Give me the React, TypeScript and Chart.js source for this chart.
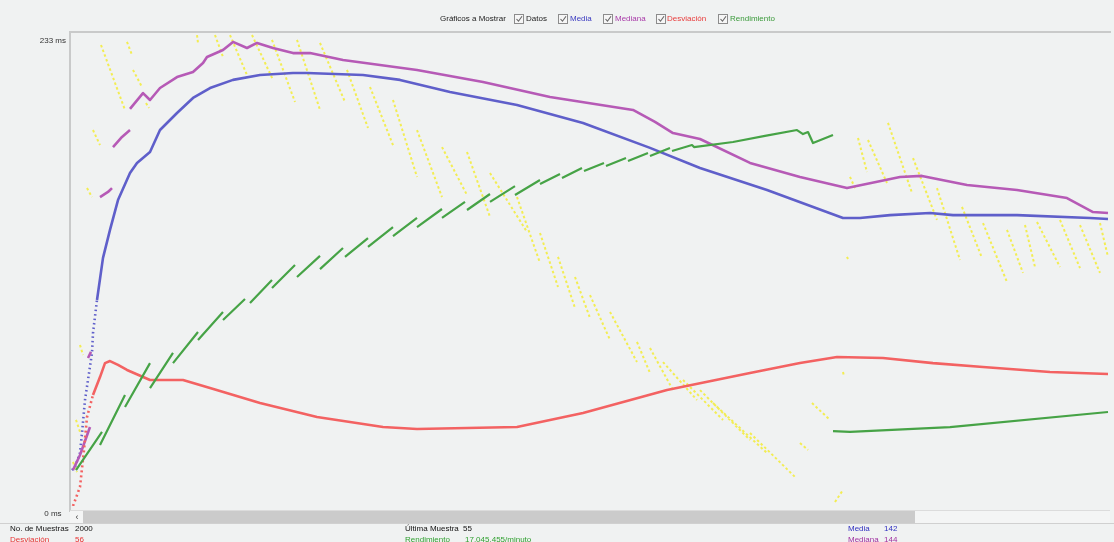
import React, { useEffect, useRef } from "react";
import { Chart, registerables } from "chart.js";

Chart.register(...registerables);

// ---- scales ----
const X_MAX = 2078;
const Y_MIN = 0;
const Y_MAX = 233;
const yTickValues = [0, 233];

// ---- Media (blue) ----
const mediaX = [4, 10, 20, 24, 30, 36, 44, 46, 54, 66, 80, 96, 120, 134, 160, 180, 214, 246, 280, 326, 380, 446, 474, 586, 660, 760, 894, 1026, 1160, 1260, 1394, 1546, 1580, 1640, 1720, 1766, 1894, 2040, 2076];
const mediaY = [17.7, 19.2, 26.1, 36.0, 52.2, 62.1, 75.4, 85.2, 101.5, 122.2, 136.0, 150.7, 164.0, 169.0, 174.4, 185.2, 193.6, 201.0, 205.9, 209.9, 212.3, 213.3, 213.3, 212.3, 209.9, 203.9, 197.5, 188.7, 176.4, 166.5, 155.7, 141.9, 141.9, 143.3, 144.3, 143.3, 143.3, 141.9, 141.4];

// ---- Mediana (purple) ----
const medianaX = [6, 20, 40, 40, 36, 42, 42, 60, 76, 84, 84, 86, 104, 120, 120, 120, 146, 160, 180, 214, 246, 266, 274, 306, 326, 354, 374, 406, 446, 480, 546, 694, 826, 960, 1126, 1170, 1206, 1260, 1360, 1460, 1554, 1660, 1704, 1794, 1894, 1994, 2046, 2076];
const medianaY = [17.7, 25.1, 38.9, null, 72.9, 75.9, null, 152.2, 154.7, 156.6, null, 176.8, 181.8, 185.2, null, 195.6, 203.4, 200.0, 205.9, 211.3, 213.8, 218.2, 221.2, 224.6, 228.6, 225.6, 228.1, 225.6, 223.1, 223.1, 219.7, 214.8, 208.9, 201.5, 195.1, 189.2, 183.7, 180.8, 169.0, 162.1, 156.6, 162.1, 162.6, 158.1, 155.7, 151.7, 144.8, 144.3];

// ---- Desviación (red) ----
const desvX = [6, 20, 28, 34, 46, 60, 70, 80, 96, 114, 160, 226, 280, 380, 494, 626, 694, 894, 1026, 1194, 1360, 1460, 1534, 1626, 1726, 1826, 1960, 2076];
const desvY = [0, 9.4, 27.6, 43.8, 54.7, 63.5, 70.4, 71.4, 69.5, 67.0, 62.1, 62.1, 58.1, 50.7, 43.8, 38.9, 37.9, 38.9, 45.8, 57.1, 65.5, 70.4, 73.4, 72.9, 70.4, 68.5, 66.0, 65.0];

// ---- Rendimiento (green) ----
const rendX = [12, 64, 64, 60, 110, 110, 110, 160, 160, 160, 206, 206, 206, 256, 256, 256, 306, 306, 306, 350, 350, 360, 404, 404, 404, 450, 450, 454, 500, 500, 500, 546, 546, 550, 596, 596, 596, 646, 646, 646, 694, 694, 694, 744, 744, 744, 790, 790, 794, 840, 840, 840, 890, 890, 890, 940, 940, 940, 980, 980, 984, 1024, 1024, 1028, 1068, 1068, 1072, 1112, 1112, 1116, 1156, 1156, 1160, 1200, 1200, 1204, 1244, 1248, 1326, 1390, 1454, 1466, 1476, 1486, 1526, 1526, 1526, 1560, 1760, 2076];
const rendY = [17.7, 36.5, null, 30.0, 54.7, null, 48.8, 70.4, null, 58.1, 75.4, null, 70.4, 85.7, null, 81.8, 95.6, null, 91.6, 102.0, null, 100.0, 111.3, null, 107.4, 118.7, null, 112.8, 123.2, null, 116.7, 127.1, null, 122.7, 132.0, null, 127.6, 137.4, null, 133.0, 141.9, null, 137.4, 146.3, null, 141.9, 149.8, null, 145.8, 153.7, null, 149.8, 157.6, null, 153.2, 160.6, null, 158.6, 163.5, null, 161.6, 166.5, null, 165.0, 169.0, null, 167.5, 171.4, null, 169.9, 173.9, null, 172.4, 176.4, null, 174.9, 177.8, 176.8, 179.3, 182.3, 185.2, 183.2, 184.2, 178.8, 182.8, null, 36.9, 36.5, 38.9, 46.3];

// ---- Datos (yellow streaks: start / end of each streak) ----
const datosX0 = [62, 114, 126, 152, 46, 34, 254, 290, 320, 364, 404, 454, 500, 554, 600, 646, 694, 744, 794, 840, 894, 940, 976, 1010, 1040, 1080, 1134, 1160, 1186, 1226, 1260, 1286, 1360, 1484, 1460, 1530, 1546, 1560, 1576, 1596, 1636, 1686, 1734, 1784, 1826, 1874, 1910, 1934, 1980, 2020, 2060, 1554, 20, 12, 6];
const datosY0 = [227.1, 228.6, 214.8, 198.5, 185.2, 156.6, 232.0, 232.0, 232.0, 232.0, 229.6, 229.6, 228.1, 214.8, 206.4, 200.0, 185.2, 176.8, 174.4, 164.0, 152.2, 134.5, 122.7, 112.8, 103.9, 95.6, 80.8, 77.8, 70.9, 62.1, 57.1, 50.7, 36.0, 50.7, 31.0, 2.0, 66.0, 162.1, 181.3, 180.3, 188.7, 171.4, 156.6, 147.3, 139.4, 136.0, 138.4, 139.9, 140.9, 138.4, 139.4, 122.7, 79.3, 42.4, 21.7];
const datosX1 = [110, 124, 144, 158, 60, 44, 256, 306, 354, 406, 450, 500, 550, 596, 646, 694, 744, 794, 840, 914, 940, 976, 1010, 1040, 1080, 1134, 1160, 1206, 1254, 1306, 1360, 1394, 1450, 1520, 1476, 1546, 1548, 1570, 1594, 1634, 1684, 1734, 1780, 1824, 1874, 1906, 1930, 1980, 2020, 2060, 2076, 1556, 26, 20, 14];
const datosY1 = [195.1, 222.2, 206.4, 196.1, 177.8, 152.2, 228.1, 221.2, 212.3, 209.9, 199.0, 195.1, 199.0, 186.2, 177.8, 162.1, 152.2, 153.2, 142.4, 135.0, 119.7, 107.9, 97.5, 92.6, 81.8, 70.9, 65.5, 57.1, 52.2, 42.4, 32.5, 26.1, 14.3, 42.4, 27.6, 7.9, 64.0, 156.6, 164.5, 159.1, 154.2, 140.9, 121.2, 122.2, 110.3, 114.8, 117.7, 117.7, 117.2, 114.8, 122.7, 121.7, 74.4, 36.5, 16.7];

// ---- texts ----
const legendTitle = "Gráficos a Mostrar";
const legendItems = [
  { label: "Datos", color: "#222222", box: 514, text: 526 },
  { label: "Media", color: "#3a3ac0", box: 558, text: 570 },
  { label: "Mediana", color: "#a83aa8", box: 603, text: 615 },
  { label: "Desviación", color: "#e83a3a", box: 656, text: 667 },
  { label: "Rendimiento", color: "#3a9a3a", box: 718, text: 730 },
];
const footerItems = [
  { label: "No. de Muestras", value: "2000", color: "#111111", x: 10, vx: 75, y: 529 },
  { label: "Desviación", value: "56", color: "#e83030", x: 10, vx: 75, y: 540 },
  { label: "Última Muestra", value: "55", color: "#111111", x: 405, vx: 463, y: 529 },
  { label: "Rendimiento", value: "17.045.455/minuto", color: "#30a030", x: 405, vx: 465, y: 540 },
  { label: "Media", value: "142", color: "#3030c0", x: 848, vx: 884, y: 529 },
  { label: "Mediana", value: "144", color: "#a030a0", x: 848, vx: 884, y: 540 },
];

const FONT = "'Liberation Sans', Arial, sans-serif";

const txt = (x: number, y: number, color: string, s: string, key?: string) => (
  <span
    key={key}
    style={{
      position: "absolute",
      left: x,
      top: y - 5,
      lineHeight: "10px",
      fontSize: 8,
      color,
      whiteSpace: "nowrap",
      fontFamily: FONT,
    }}
  >
    {s}
  </span>
);

const CheckBox = ({ x }: { x: number }) => (
  <div
    style={{
      position: "absolute",
      left: x,
      top: 14,
      width: 8,
      height: 8,
      border: "1px solid #8c8c8c",
      background: "#f6f6f6",
    }}
  >
    <svg width="8" height="8" style={{ position: "absolute", left: 0, top: 0 }}>
      <polyline points="1.5,4 3.5,6.2 7,1.2" fill="none" stroke="#666" strokeWidth="1.1" />
    </svg>
  </div>
);

export default function App() {
  const ref = useRef<HTMLCanvasElement>(null);

  useEffect(() => {
    if (!ref.current) return;
    const pts = (xs: number[], ys: (number | null)[]) => xs.map((x, i) => ({ x, y: ys[i] }));
    const datosPts: { x: number; y: number | null }[] = [];
    datosX0.forEach((x, i) => {
      datosPts.push({ x, y: datosY0[i] }, { x: datosX1[i], y: datosY1[i] }, { x: datosX1[i], y: null });
    });

    const chart = new Chart(ref.current, {
      type: "line",
      data: {
        datasets: [
          {
            label: "Rendimiento",
            data: pts(rendX, rendY) as any,
            borderColor: "#46a346",
            borderWidth: 2.2,
            order: 1,
          },
          {
            label: "Desviación",
            data: pts(desvX, desvY) as any,
            borderColor: "#f36262",
            borderWidth: 2.6,
            order: 2,
            segment: {
              borderDash: (ctx: any) => (ctx.p1.parsed.x <= 46 ? [2, 3] : undefined),
            },
          },
          {
            label: "Mediana",
            data: pts(medianaX, medianaY) as any,
            borderColor: "#b65ab6",
            borderWidth: 2.6,
            order: 3,
          },
          {
            label: "Media",
            data: pts(mediaX, mediaY) as any,
            borderColor: "#5f5fca",
            borderWidth: 2.6,
            order: 4,
            segment: {
              borderDash: (ctx: any) => (ctx.p1.parsed.x <= 54 ? [1.5, 3] : undefined),
            },
          },
          {
            label: "Datos",
            data: datosPts as any,
            borderColor: "rgba(243,236,64,0.9)",
            borderWidth: 2,
            borderDash: [2.5, 2.5],
            order: 5,
          },
        ],
      },
      options: {
        animation: false,
        responsive: true,
        maintainAspectRatio: false,
        events: [],
        spanGaps: false,
        elements: {
          point: { radius: 0, hoverRadius: 0 },
          line: { tension: 0, borderCapStyle: "butt", borderJoinStyle: "round" },
        },
        layout: { padding: { left: 0, top: 33, right: 5, bottom: 36 } },
        plugins: {
          legend: { display: false },
          tooltip: { enabled: false },
        },
        scales: {
          x: { type: "linear", min: 0, max: X_MAX, display: false },
          y: {
            type: "linear",
            min: Y_MIN,
            max: Y_MAX,
            afterBuildTicks: (s: any) => {
              s.ticks = yTickValues.map((v) => ({ value: v }));
            },
            afterFit: (s: any) => {
              s.width = 70;
            },
            grid: { display: false, drawTicks: false },
            border: { display: false },
            ticks: {
              callback: (v: any) => `${v} ms`,
              color: "#333333",
              font: { family: "'Liberation Sans', Arial, sans-serif", size: 8 },
              labelOffset: 8,
              crossAlign: "center",
              padding: 4,
              autoSkip: false,
            },
          },
        },
      } as any,
    });
    return () => chart.destroy();
  }, []);

  return (
    <div
      style={{
        position: "absolute",
        left: 0,
        top: 0,
        width: 1114,
        height: 542,
        overflow: "hidden",
        background: "#f0f2f2",
        fontFamily: FONT,
      }}
    >
      {/* plot frame */}
      <div style={{ position: "absolute", left: 69, top: 31, width: 1042, height: 2, background: "#c9caca" }} />
      <div style={{ position: "absolute", left: 69, top: 31, width: 2, height: 481, background: "#c9caca" }} />

      <div style={{ position: "absolute", left: 0, top: 0, width: 1114, height: 542 }}>
        <canvas ref={ref} />
      </div>

      {/* scrollbar */}
      <div style={{ position: "absolute", left: 70, top: 510, width: 1040, height: 12, background: "#f4f5f5", borderTop: "1px solid #dcdcdc" }} />
      <div style={{ position: "absolute", left: 71, top: 511, width: 12, height: 12, color: "#444", fontSize: 9, lineHeight: "12px", textAlign: "center", fontFamily: FONT }}>‹</div>
      <div style={{ position: "absolute", left: 83, top: 511, width: 832, height: 12, background: "#cbcbcb" }} />
      <div style={{ position: "absolute", left: 0, top: 523, width: 1114, height: 1, background: "#d0d0d0" }} />

      {/* top legend */}
      {txt(440, 19, "#222222", legendTitle)}
      {legendItems.map((it) => (
        <React.Fragment key={it.label}>
          <CheckBox x={it.box} />
          {txt(it.text, 19, it.color, it.label)}
        </React.Fragment>
      ))}

      {/* footer */}
      {footerItems.map((f) => (
        <React.Fragment key={f.label}>
          {txt(f.x, f.y, f.color, f.label)}
          {txt(f.vx, f.y, f.color, f.value)}
        </React.Fragment>
      ))}
    </div>
  );
}
